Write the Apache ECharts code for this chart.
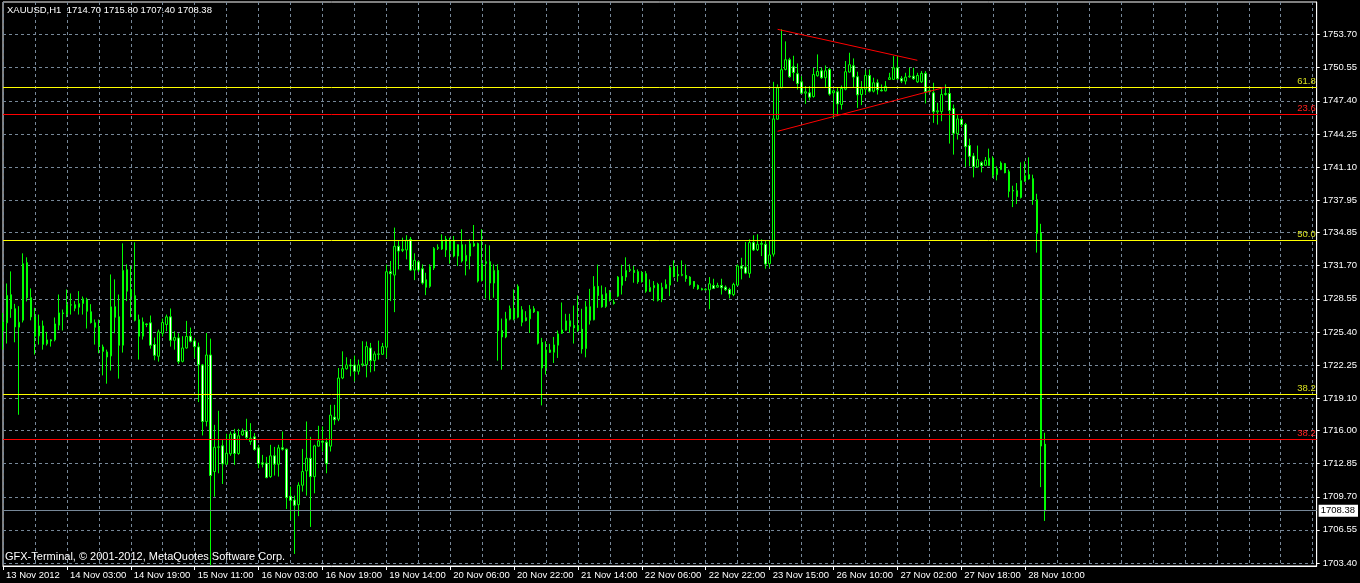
<!DOCTYPE html>
<html>
<head>
<meta charset="utf-8">
<script src="https://cdn.jsdelivr.net/npm/echarts@6/dist/echarts.min.js"></script>
<style>
  html, body { margin: 0; padding: 0; background: #000; }
  #chart { width: 1360px; height: 583px; }
</style>
</head>
<body>
<div id="chart"></div>
<script>
// time labels, one every 16 hourly bars
const tickLabels = ['13 Nov 2012', '14 Nov 03:00', '14 Nov 19:00', '15 Nov 11:00', '16 Nov 03:00',
  '16 Nov 19:00', '19 Nov 14:00', '20 Nov 06:00', '20 Nov 22:00', '21 Nov 14:00', '22 Nov 06:00',
  '22 Nov 22:00', '23 Nov 15:00', '26 Nov 10:00', '27 Nov 02:00', '27 Nov 18:00', '28 Nov 10:00'];

const priceTicks = [1703.40, 1706.55, 1709.70, 1712.85, 1716.00, 1719.10, 1722.25, 1725.40, 1728.55,
  1731.70, 1734.85, 1737.95, 1741.10, 1744.25, 1747.40, 1750.55, 1753.70];

// XAUUSD H1 bars
const opens = [
  1725.53, 1726.26, 1728.93, 1727.60, 1725.85, 1726.51, 1731.99, 1728.65, 1726.83, 1725.02,
  1725.97, 1724.26, 1724.64, 1724.64, 1726.04, 1727.21, 1727.09, 1727.98, 1727.98, 1727.75,
  1728.10, 1728.45, 1727.31, 1726.26, 1725.88, 1723.97, 1723.49, 1723.11, 1727.79, 1726.83,
  1724.13, 1731.32, 1729.44, 1728.84, 1726.55, 1724.99, 1726.16, 1726.26, 1724.19, 1723.08,
  1725.27, 1726.10, 1726.83, 1724.60, 1724.83, 1722.60, 1723.87, 1724.99, 1724.54, 1723.97,
  1722.25, 1716.87, 1723.20, 1712.10, 1714.42, 1714.55, 1712.80, 1713.79, 1715.73, 1713.82,
  1715.60, 1715.95, 1714.96, 1715.41, 1714.36, 1712.93, 1712.90, 1711.62, 1713.60, 1712.80,
  1714.36, 1714.23, 1709.75, 1709.39, 1708.95, 1710.80, 1712.17, 1713.37, 1711.62, 1714.52,
  1714.99, 1714.90, 1714.52, 1717.29, 1717.09, 1721.01, 1721.90, 1722.25, 1722.25, 1721.65,
  1722.25, 1722.28, 1723.87, 1722.66, 1723.30, 1723.27, 1723.94, 1731.13, 1730.81, 1733.55,
  1733.16, 1733.20, 1734.21, 1731.29, 1732.08, 1731.41, 1730.36, 1729.73, 1731.48, 1733.35,
  1733.29, 1734.24, 1733.20, 1734.12, 1732.62, 1733.70, 1732.15, 1732.62, 1733.80, 1733.80,
  1730.30, 1731.92, 1732.08, 1730.05, 1731.25, 1725.53, 1724.92, 1726.61, 1727.63, 1726.80,
  1727.50, 1726.74, 1726.64, 1727.60, 1727.31, 1724.38, 1721.96, 1723.68, 1723.46, 1724.13,
  1725.27, 1725.56, 1726.45, 1726.00, 1726.00, 1725.65, 1723.81, 1727.79, 1726.55, 1729.73,
  1728.93, 1727.82, 1729.15, 1728.23, 1728.80, 1730.68, 1730.62, 1731.25, 1731.25, 1731.13,
  1730.17, 1730.94, 1729.25, 1729.60, 1729.92, 1728.49, 1729.54, 1729.85, 1731.57, 1730.87,
  1730.78, 1730.78, 1730.62, 1730.20, 1729.82, 1729.50, 1729.41, 1729.41, 1729.82, 1729.66,
  1729.82, 1729.66, 1729.44, 1728.96, 1729.85, 1731.67, 1731.57, 1730.97, 1733.90, 1733.23,
  1733.74, 1733.74, 1731.90, 1732.80, 1745.65, 1748.64, 1750.39, 1751.31, 1750.65, 1749.98,
  1749.21, 1748.13, 1748.16, 1747.81, 1749.79, 1750.26, 1749.60, 1750.39, 1748.16, 1748.26,
  1747.05, 1748.51, 1750.14, 1750.74, 1749.69, 1748.00, 1748.51, 1749.82, 1748.32, 1749.12,
  1748.42, 1748.35, 1749.44, 1749.44, 1750.55, 1749.53, 1749.28, 1749.69, 1749.75, 1749.21,
  1749.21, 1750.01, 1748.26, 1748.16, 1746.35, 1746.38, 1748.00, 1748.10, 1746.67, 1744.28,
  1745.62, 1745.14, 1743.14, 1742.15, 1741.10, 1741.51, 1741.26, 1741.23, 1741.93, 1740.37,
  1740.85, 1741.42, 1740.65, 1738.87, 1738.84, 1738.20, 1739.73, 1740.37, 1739.99, 1737.98,
  1734.80, 1714.70
];
const closes = [
  1726.32, 1728.87, 1727.60, 1725.88, 1726.32, 1731.89, 1728.65, 1726.83, 1724.99, 1725.97,
  1724.22, 1724.64, 1724.54, 1726.16, 1727.21, 1727.15, 1727.98, 1727.95, 1727.66, 1728.10,
  1728.55, 1727.37, 1726.29, 1725.85, 1724.13, 1723.55, 1723.01, 1727.79, 1726.80, 1724.13,
  1731.25, 1729.28, 1728.77, 1726.51, 1724.99, 1726.35, 1726.10, 1724.13, 1723.17, 1725.40,
  1726.29, 1726.83, 1724.60, 1724.86, 1722.57, 1723.87, 1724.96, 1724.51, 1724.00, 1722.28,
  1716.87, 1723.20, 1711.72, 1714.42, 1714.45, 1712.83, 1713.85, 1715.66, 1713.82, 1715.51,
  1715.95, 1715.35, 1715.28, 1714.20, 1712.86, 1712.80, 1711.53, 1713.60, 1712.80, 1714.36,
  1714.23, 1709.62, 1709.36, 1708.89, 1710.80, 1712.10, 1713.37, 1711.62, 1714.55, 1715.03,
  1714.90, 1712.86, 1717.48, 1717.03, 1721.01, 1721.90, 1722.25, 1722.15, 1721.65, 1722.25,
  1722.35, 1724.00, 1722.66, 1723.30, 1723.27, 1724.00, 1731.13, 1730.94, 1733.55, 1733.10,
  1733.26, 1734.12, 1731.29, 1732.21, 1731.29, 1730.05, 1729.66, 1731.63, 1733.35, 1733.45,
  1734.12, 1733.20, 1734.12, 1732.62, 1733.70, 1732.15, 1732.69, 1733.80, 1733.58, 1730.24,
  1731.89, 1732.08, 1730.05, 1731.25, 1725.53, 1724.92, 1726.64, 1727.63, 1726.61, 1729.73,
  1726.32, 1726.48, 1727.56, 1727.31, 1724.32, 1721.96, 1723.68, 1723.46, 1724.16, 1725.21,
  1725.59, 1726.45, 1725.94, 1725.78, 1725.53, 1723.78, 1727.79, 1726.51, 1729.73, 1728.87,
  1727.79, 1729.06, 1728.39, 1728.11, 1730.62, 1729.85, 1731.25, 1731.35, 1731.06, 1730.17,
  1731.03, 1729.28, 1729.63, 1729.82, 1728.42, 1729.63, 1729.92, 1731.54, 1730.65, 1730.75,
  1730.87, 1730.49, 1729.92, 1729.73, 1729.50, 1729.41, 1729.47, 1729.98, 1729.54, 1729.82,
  1729.60, 1729.41, 1729.00, 1729.92, 1731.67, 1731.45, 1731.00, 1733.90, 1733.20, 1733.74,
  1733.83, 1731.86, 1732.73, 1745.68, 1748.64, 1750.36, 1751.31, 1749.69, 1750.10, 1749.05,
  1748.13, 1748.26, 1747.75, 1749.91, 1750.20, 1749.60, 1750.26, 1748.04, 1748.35, 1747.11,
  1748.58, 1750.17, 1750.84, 1749.66, 1747.97, 1748.54, 1749.82, 1748.32, 1749.12, 1748.45,
  1748.35, 1748.77, 1749.60, 1750.55, 1749.50, 1749.28, 1749.66, 1749.75, 1749.50, 1749.82,
  1750.01, 1748.26, 1748.39, 1746.35, 1746.45, 1748.00, 1748.10, 1746.48, 1744.31, 1745.68,
  1745.14, 1743.04, 1742.12, 1741.13, 1741.80, 1741.23, 1741.74, 1741.93, 1740.30, 1740.94,
  1741.48, 1740.56, 1738.78, 1738.81, 1738.30, 1739.80, 1740.27, 1739.96, 1737.98, 1734.80,
  1714.53, 1708.38
];
const lows = [
  1723.71, 1724.29, 1726.74, 1724.41, 1717.51, 1726.30, 1728.30, 1726.50, 1723.24, 1724.19,
  1723.71, 1724.10, 1724.00, 1724.50, 1725.56, 1725.53, 1726.80, 1727.05, 1727.37, 1727.05,
  1727.05, 1725.72, 1726.20, 1724.19, 1723.36, 1721.26, 1720.47, 1721.71, 1725.27, 1720.95,
  1723.43, 1728.33, 1726.80, 1726.40, 1722.76, 1724.67, 1725.85, 1723.80, 1722.70, 1722.57,
  1724.95, 1725.46, 1724.00, 1723.71, 1722.35, 1722.50, 1723.80, 1724.40, 1722.92, 1718.72,
  1715.54, 1716.40, 1703.20, 1709.71, 1711.94, 1710.92, 1712.74, 1713.60, 1712.74, 1713.70,
  1715.50, 1715.20, 1714.65, 1714.10, 1712.42, 1712.50, 1711.46, 1711.50, 1711.72, 1711.62,
  1714.10, 1708.54, 1707.48, 1704.26, 1707.86, 1710.19, 1709.81, 1706.83, 1710.03, 1714.50,
  1714.01, 1711.94, 1714.01, 1716.55, 1716.90, 1720.90, 1721.80, 1721.17, 1720.69, 1721.33,
  1722.10, 1721.07, 1721.55, 1721.65, 1722.76, 1723.20, 1722.92, 1728.33, 1727.28, 1731.35,
  1733.00, 1732.30, 1731.20, 1730.33, 1731.10, 1729.90, 1728.90, 1729.60, 1731.29, 1733.20,
  1733.20, 1732.53, 1731.89, 1732.50, 1731.67, 1732.00, 1730.78, 1731.35, 1733.50, 1730.10,
  1730.20, 1728.58, 1728.42, 1728.65, 1722.66, 1721.80, 1724.80, 1726.50, 1726.50, 1726.70,
  1725.94, 1726.40, 1725.30, 1727.20, 1724.20, 1718.40, 1721.33, 1723.40, 1722.44, 1722.92,
  1725.20, 1725.50, 1725.30, 1724.29, 1725.40, 1723.33, 1722.98, 1726.10, 1726.50, 1727.69,
  1727.70, 1727.69, 1728.30, 1728.00, 1728.70, 1728.96, 1730.24, 1731.10, 1730.08, 1729.98,
  1730.10, 1729.12, 1729.20, 1728.33, 1728.30, 1728.23, 1729.50, 1728.80, 1730.60, 1730.17,
  1730.70, 1730.17, 1729.80, 1729.50, 1729.40, 1729.35, 1729.35, 1727.56, 1729.50, 1729.60,
  1728.96, 1729.30, 1728.58, 1728.80, 1729.80, 1730.40, 1730.90, 1730.55, 1733.10, 1733.10,
  1732.62, 1731.41, 1731.52, 1732.57, 1745.60, 1748.60, 1750.30, 1749.60, 1749.28, 1748.48,
  1748.10, 1747.11, 1747.43, 1747.70, 1749.70, 1749.50, 1748.64, 1747.90, 1745.78, 1745.94,
  1746.57, 1748.40, 1750.10, 1748.64, 1746.73, 1746.99, 1748.00, 1748.20, 1748.20, 1748.00,
  1748.30, 1748.30, 1749.40, 1749.40, 1749.40, 1749.09, 1748.96, 1749.60, 1749.40, 1749.10,
  1749.10, 1747.15, 1748.20, 1745.30, 1745.14, 1745.46, 1747.90, 1743.33, 1742.28, 1743.71,
  1744.90, 1741.10, 1741.16, 1740.11, 1741.00, 1740.59, 1741.20, 1741.20, 1740.05, 1739.83,
  1740.80, 1740.50, 1738.20, 1737.28, 1737.57, 1738.10, 1739.70, 1739.90, 1737.50, 1732.95,
  1710.62, 1707.40
];
const highs = [
  1727.21, 1730.01, 1731.16, 1728.07, 1727.85, 1732.88, 1732.50, 1729.54, 1727.69, 1727.05,
  1726.48, 1725.40, 1724.70, 1726.77, 1728.96, 1727.53, 1729.44, 1729.06, 1728.33, 1729.28,
  1728.77, 1728.65, 1728.04, 1726.58, 1726.58, 1724.19, 1723.71, 1730.87, 1730.40, 1728.96,
  1733.83, 1731.83, 1731.70, 1733.93, 1727.05, 1726.77, 1726.20, 1726.96, 1724.86, 1725.62,
  1726.67, 1727.05, 1727.63, 1725.46, 1725.27, 1724.99, 1726.45, 1725.81, 1724.83, 1724.38,
  1722.35, 1725.30, 1724.76, 1716.55, 1717.89, 1715.12, 1715.70, 1715.92, 1716.17, 1716.17,
  1716.20, 1717.13, 1716.71, 1715.76, 1714.65, 1713.69, 1713.50, 1714.65, 1714.45, 1714.65,
  1715.92, 1714.30, 1710.67, 1709.81, 1711.08, 1714.26, 1716.87, 1715.41, 1714.65, 1716.46,
  1716.40, 1715.28, 1718.46, 1718.46, 1721.96, 1723.55, 1722.98, 1722.82, 1723.14, 1722.76,
  1724.51, 1724.48, 1724.35, 1723.55, 1724.57, 1724.35, 1731.80, 1732.15, 1735.33, 1734.05,
  1734.37, 1734.60, 1734.44, 1732.88, 1732.21, 1731.83, 1731.03, 1731.83, 1733.48, 1733.74,
  1734.69, 1734.53, 1734.37, 1734.53, 1733.74, 1735.17, 1733.74, 1734.21, 1735.58, 1733.90,
  1735.17, 1733.74, 1733.64, 1731.83, 1731.83, 1726.67, 1727.31, 1727.91, 1729.44, 1729.92,
  1727.85, 1727.37, 1727.95, 1727.85, 1727.37, 1724.83, 1724.51, 1724.26, 1724.92, 1725.53,
  1728.20, 1727.12, 1727.12, 1727.91, 1728.87, 1727.60, 1728.33, 1729.50, 1730.71, 1731.80,
  1729.82, 1729.66, 1729.38, 1728.49, 1730.71, 1731.80, 1732.50, 1731.83, 1731.67, 1731.35,
  1731.19, 1731.19, 1730.40, 1730.24, 1730.08, 1730.08, 1730.40, 1731.70, 1732.21, 1731.70,
  1732.21, 1731.83, 1730.71, 1730.24, 1729.92, 1729.60, 1729.55, 1730.62, 1730.46, 1730.08,
  1730.46, 1729.82, 1729.60, 1730.08, 1731.83, 1732.46, 1733.96, 1734.21, 1734.60, 1734.69,
  1734.21, 1734.15, 1734.10, 1749.21, 1748.96, 1754.21, 1753.06, 1751.50, 1751.69, 1750.96,
  1749.75, 1748.80, 1748.80, 1750.55, 1751.82, 1750.55, 1750.77, 1750.55, 1748.48, 1748.64,
  1748.86, 1751.19, 1751.98, 1751.44, 1750.17, 1749.28, 1750.30, 1750.39, 1749.60, 1749.44,
  1748.96, 1749.28, 1750.07, 1751.66, 1751.66, 1749.75, 1750.07, 1750.55, 1750.55, 1750.07,
  1750.23, 1750.23, 1748.80, 1749.12, 1747.21, 1748.64, 1748.96, 1748.70, 1747.05, 1746.09,
  1745.78, 1745.30, 1743.80, 1742.44, 1743.14, 1741.64, 1742.05, 1742.85, 1742.12, 1741.16,
  1741.64, 1741.48, 1740.85, 1739.32, 1739.57, 1741.54, 1741.64, 1742.02, 1740.37, 1738.55,
  1735.69, 1715.80
];

// fibonacci levels drawn on the chart
const fibValues = [1748.69, 1746.12, 1734.15, 1719.46, 1715.18];
const fibNames = ['61.8', '23.6', '50.0', '38.2', '38.2'];
const fibIsRed = [false, true, false, false, true];

// triangle trend lines: [bar index, price]
const trendUpper = [[194, 1754.21], [229, 1751.26]];
const trendLower = [[194, 1744.50], [236, 1748.70]];

const symbolName = 'XAUUSD,H1';
const slotCount = 330; // bars plus empty space on the right

const chart = echarts.init(document.getElementById('chart'));

const last = opens.length - 1;
const candles = opens.map((o, i) => [o, closes[i], lows[i], highs[i]]);
const categories = [];
for (let i = 0; i < slotCount; i++) {
  categories.push(i % 16 === 0 && tickLabels[i / 16] ? tickLabels[i / 16] : '');
}
const labelSlot = (idx) => idx % 16 === 0 && !!tickLabels[idx / 16];

const FONT = 'Liberation Sans';
const gridColor = '#778899';

const fibLines = fibValues.map((v, i) => ({
  yAxis: v,
  lineStyle: { color: fibIsRed[i] ? '#ff0000' : '#ffff00', width: 1, type: 'solid' },
  label: {
    show: true,
    position: 'insideEndTop',
    formatter: fibNames[i],
    color: fibIsRed[i] ? '#ff2020' : '#d8e020',
    fontSize: 9.5,
    fontFamily: FONT,
    distance: [1, 1]
  }
}));

const trendLine = (pts) => [
  { coord: pts[0], lineStyle: { color: '#ff0000', width: 1, type: 'solid' }, label: { show: false } },
  { coord: pts[1] }
];

const option = {
  backgroundColor: '#000',
  animation: false,
  title: [
    {
      text: symbolName + '  ' + [opens[last], highs[last], lows[last], closes[last]].map(v => v.toFixed(2)).join(' '),
      left: 7, top: 5, padding: 0,
      textStyle: { color: '#fff', fontSize: 9.5, fontWeight: 'normal', fontFamily: FONT }
    },
    {
      text: 'GFX-Terminal, © 2001-2012, MetaQuotes Software Corp.',
      left: 5, top: 551, padding: 0,
      textStyle: { color: '#fff', fontSize: 11, fontWeight: 'normal', fontFamily: FONT }
    }
  ],
  grid: {
    left: 3, right: 41, top: 2, bottom: 17,
    show: true, borderColor: '#fff', borderWidth: 1, backgroundColor: '#000'
  },
  xAxis: {
    type: 'category',
    data: categories,
    boundaryGap: false,
    axisLine: { lineStyle: { color: '#fff', width: 1 } },
    axisTick: { show: true, length: 4, interval: labelSlot, lineStyle: { color: '#fff' } },
    axisLabel: {
      interval: labelSlot,
      align: 'left',
      margin: 4,
      padding: [0, 0, 0, 3],
      color: '#fff',
      fontSize: 9.5,
      fontFamily: FONT,
      formatter: (v, idx) => tickLabels[idx / 16] || ''
    },
    splitLine: { show: true, interval: 7, lineStyle: { color: gridColor, type: [3, 3], width: 1 } }
  },
  yAxis: {
    type: 'value',
    position: 'right',
    min: 1703.11,
    max: 1756.81,
    axisLine: { show: true, lineStyle: { color: '#fff', width: 1 } },
    axisTick: { show: true, length: 3, customValues: priceTicks, lineStyle: { color: '#fff' } },
    axisLabel: {
      customValues: priceTicks,
      color: '#fff',
      fontSize: 9.5,
      fontFamily: FONT,
      margin: 6,
      formatter: v => v.toFixed(2)
    },
    splitLine: { show: true, lineStyle: { color: gridColor, type: [3, 3], width: 1 } }
  },
  series: [{
    type: 'candlestick',
    data: candles,
    barWidth: 2,
    itemStyle: {
      color: '#000',
      color0: '#fff',
      borderColor: '#00ff00',
      borderColor0: '#00ff00',
      borderColorDoji: '#00ff00',
      borderWidth: 1
    },
    markLine: {
      silent: true,
      symbol: 'none',
      animation: false,
      data: fibLines.concat([
        {
          yAxis: closes[last],
          lineStyle: { color: gridColor, width: 1, type: 'solid' },
          label: {
            show: true,
            position: 'end',
            distance: 2,
            formatter: closes[last].toFixed(2),
            backgroundColor: '#fff',
            color: '#000',
            padding: [1, 3, 1, 2],
            fontSize: 9.5,
            fontFamily: FONT
          }
        },
        trendLine(trendUpper),
        trendLine(trendLower)
      ])
    }
  }]
};

chart.setOption(option);
</script>
</body>
</html>
